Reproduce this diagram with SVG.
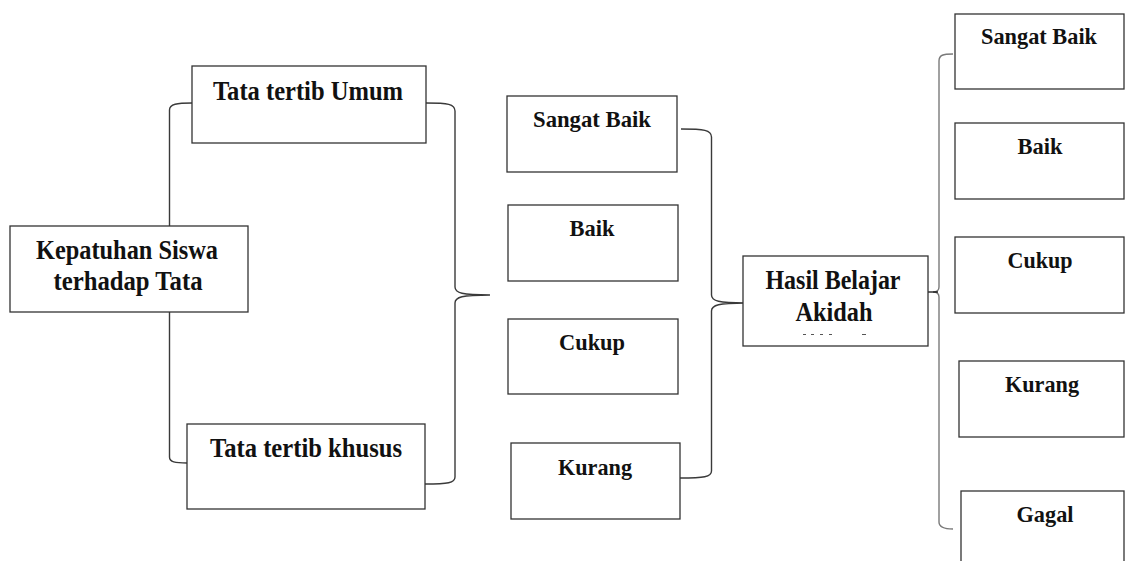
<svg xmlns="http://www.w3.org/2000/svg" width="1125" height="561" viewBox="0 0 1125 561">
  <style>
    .box { fill: #ffffff; stroke: #333333; stroke-width: 1.3; }
    .brace { fill: none; stroke: #3a3a3a; stroke-width: 1.4; }
    .brace-light { fill: none; stroke: #7a7a7a; stroke-width: 1.4; }
    .line { fill: none; stroke: #111111; stroke-width: 1.3; }
    .big { font-family: "Liberation Serif", "Times New Roman", serif; font-weight: bold; font-size: 28px; fill: #111111; text-anchor: middle; }
    .small { font-family: "Liberation Serif", "Times New Roman", serif; font-weight: bold; font-size: 23px; fill: #111111; text-anchor: middle; }
  </style>
  <rect width="1125" height="561" fill="#ffffff"/>

  <g id="connectors">
    <path class="brace" d="M192,103 C177,103 169.5,104 169.5,110 L169.5,457 C169.5,462 175,463 187,463"/>
    <path class="brace" d="M426,103 C448,103 455,104 455,111 L455,287 C455,293 462,295 490,295 C462,295 455,297 455,303 L455,477 C455,483 448,484 425,484"/>
    <path class="brace" d="M681,129 C704,129 711.5,130 711.5,137 L711.5,295 C711.5,301 719,303 745,303 C719,303 711.5,305 711.5,311 L711.5,471 C711.5,477 704,478 680,478"/>
    <path class="brace-light" d="M953,54 C943,54 939,55 939,61 L939,287 C939,290 937,292 933,292 C937,292 939,294 939,297 L939,522 C939,527 943,529 953,529"/>
    <path class="line" d="M921.5,292 L938,292"/>
  </g>

  <g id="node-kepatuhan">
    <rect class="box" x="10" y="226" width="238" height="86"/>
    <text class="big" x="127" y="259" textLength="182" lengthAdjust="spacingAndGlyphs">Kepatuhan Siswa</text>
    <text class="big" x="128" y="290" textLength="149" lengthAdjust="spacingAndGlyphs">terhadap Tata</text>
  </g>

  <g id="node-tata-umum">
    <rect class="box" x="192" y="66" width="234" height="77"/>
    <text class="big" x="308" y="100" textLength="190" lengthAdjust="spacingAndGlyphs">Tata tertib Umum</text>
  </g>

  <g id="node-tata-khusus">
    <rect class="box" x="187" y="424" width="238" height="85"/>
    <text class="big" x="306" y="457" textLength="192" lengthAdjust="spacingAndGlyphs">Tata tertib khusus</text>
  </g>

  <g id="node-mid-sangat-baik">
    <rect class="box" x="507" y="96" width="170" height="76"/>
    <text class="small" x="592" y="127" textLength="118" lengthAdjust="spacingAndGlyphs">Sangat Baik</text>
  </g>

  <g id="node-mid-baik">
    <rect class="box" x="508" y="205" width="170" height="76"/>
    <text class="small" x="592" y="236" textLength="45" lengthAdjust="spacingAndGlyphs">Baik</text>
  </g>

  <g id="node-mid-cukup">
    <rect class="box" x="508" y="319" width="170" height="75"/>
    <text class="small" x="592" y="350" textLength="66" lengthAdjust="spacingAndGlyphs">Cukup</text>
  </g>

  <g id="node-mid-kurang">
    <rect class="box" x="511" y="443" width="169" height="76"/>
    <text class="small" x="595" y="475" textLength="74" lengthAdjust="spacingAndGlyphs">Kurang</text>
  </g>

  <g id="node-hasil">
    <rect class="box" x="743" y="256" width="185" height="90"/>
    <text class="big" x="833" y="289" textLength="135" lengthAdjust="spacingAndGlyphs">Hasil Belajar</text>
    <text class="big" x="834" y="321" textLength="77" lengthAdjust="spacingAndGlyphs">Akidah</text>
    <path d="M803,334.5 h3 M811,334.5 h3 M820,334.5 h3 M829,334.5 h3 M862,334.5 h4" stroke="#555555" stroke-width="1" fill="none"/>
  </g>

  <g id="node-right-sangat-baik">
    <rect class="box" x="955" y="14" width="169" height="75"/>
    <text class="small" x="1039" y="44" textLength="116" lengthAdjust="spacingAndGlyphs">Sangat Baik</text>
  </g>

  <g id="node-right-baik">
    <rect class="box" x="955" y="123" width="169" height="76"/>
    <text class="small" x="1040" y="154" textLength="45" lengthAdjust="spacingAndGlyphs">Baik</text>
  </g>

  <g id="node-right-cukup">
    <rect class="box" x="955" y="237" width="169" height="76"/>
    <text class="small" x="1040" y="268" textLength="65" lengthAdjust="spacingAndGlyphs">Cukup</text>
  </g>

  <g id="node-right-kurang">
    <rect class="box" x="959" y="361" width="165" height="76"/>
    <text class="small" x="1042" y="392" textLength="74" lengthAdjust="spacingAndGlyphs">Kurang</text>
  </g>

  <g id="node-right-gagal">
    <rect class="box" x="961" y="491" width="163" height="100"/>
    <text class="small" x="1045" y="522" textLength="57" lengthAdjust="spacingAndGlyphs">Gagal</text>
  </g>
</svg>
